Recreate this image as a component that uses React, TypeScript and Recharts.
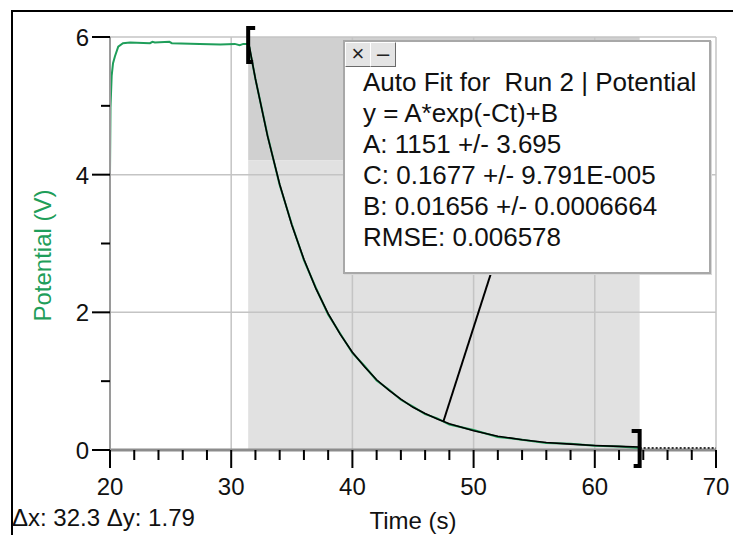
import React from 'react';
import {
  LineChart,
  Line,
  XAxis,
  YAxis,
  ReferenceArea,
  ReferenceLine,
  ReferenceDot,
} from 'recharts';

// tick values
const xTicks = [20, 22, 24, 26, 28, 30, 32, 34, 36, 38, 40, 42, 44, 46, 48, 50, 52, 54, 56, 58, 60, 62, 64, 66, 68, 70];
const xMajor = [20, 30, 40, 50, 60, 70];
const yTicks = [0, 1, 2, 3, 4, 5, 6];
const yMajor = [0, 2, 4, 6];
const xGrid = [30, 40, 50, 60, 70];
const yGrid = [2, 4, 6];

// Run 2 | Potential (measured)
const rawTime = [20.0, 20.04, 20.14, 20.25, 20.41, 20.68, 21.07, 21.65, 23.3, 23.5, 23.7, 24.9, 25.1, 27.4, 29.1, 30.3, 30.7, 31.0, 31.4, 31.5, 32, 33, 34, 35, 36, 37, 38, 39, 40, 41, 42, 43, 44, 45, 46, 47, 48, 50, 52, 54, 56, 58, 60, 62, 63.7];
const rawPotential = [4.0, 4.98, 5.44, 5.62, 5.72, 5.86, 5.91, 5.92, 5.91, 5.93, 5.92, 5.93, 5.91, 5.9, 5.89, 5.9, 5.88, 5.9, 5.9, 5.85, 5.39, 4.57, 3.85, 3.28, 2.76, 2.35, 1.97, 1.69, 1.41, 1.22, 1.01, 0.88, 0.73, 0.63, 0.52, 0.46, 0.37, 0.29, 0.19, 0.15, 0.1, 0.09, 0.06, 0.05, 0.03];

// auto fit curve over the selection
const fitTime = [31.5, 32, 33, 34, 35, 36, 37, 38, 39, 40, 41, 42, 43, 44, 45, 46, 47, 48, 50, 52, 54, 56, 58, 60, 62, 63.7];
const fitPotential = [5.86, 5.39, 4.56, 3.86, 3.27, 2.77, 2.34, 1.98, 1.68, 1.42, 1.21, 1.02, 0.87, 0.74, 0.62, 0.53, 0.45, 0.38, 0.28, 0.2, 0.15, 0.11, 0.086, 0.066, 0.052, 0.043];

// data after the selection
const tailTime = [63.7, 70];
const tailPotential = [0.03, 0.03];

const selStart = 31.4;
const selEnd = 63.7;
const deltaY = 1.79;
const fitLink = [{ x: 47.5, y: 0.41 }, { x: 51.4, y: 2.55 }];

const fitLines = [
  'Auto Fit for  Run 2 | Potential',
  'y = A*exp(-Ct)+B',
  'A: 1151 +/- 3.695',
  'C: 0.1677 +/- 9.791E-005',
  'B: 0.01656 +/- 0.0006664',
  'RMSE: 0.006578',
];

const rawData = rawTime.map((t, i) => ({ t, v: rawPotential[i] }));
const fitData = fitTime.map((t, i) => ({ t, v: fitPotential[i] }));
const tailData = tailTime.map((t, i) => ({ t, v: tailPotential[i] }));

const GREEN = '#1f9e5a';
const FONT = '"Liberation Sans", Arial, sans-serif';

const XTick = (props: any) => {
  const { x, y, payload } = props;
  const major = xMajor.includes(payload.value);
  return (
    <g>
      <line x1={x} y1={y} x2={x} y2={y + (major ? 18 : 10)} stroke="#000" strokeWidth={2} />
      {major && (
        <text x={x} y={y + 45} textAnchor="middle" fontSize={24} fill="#111" fontFamily={FONT}>
          {payload.value}
        </text>
      )}
    </g>
  );
};

const YTick = (props: any) => {
  const { x, y, payload } = props;
  const major = yMajor.includes(payload.value);
  return (
    <g>
      <line x1={x - (major ? 18 : 9)} y1={y} x2={x} y2={y} stroke="#000" strokeWidth={2} />
      {major && (
        <text x={x - 21} y={y + 9} textAnchor="end" fontSize={24} fill="#111" fontFamily={FONT}>
          {payload.value}
        </text>
      )}
    </g>
  );
};

const OpenBracket = (p: any) => (
  <path
    d={`M${p.cx + 7},${p.cy - 9} H${p.cx} V${p.cy + 25} H${p.cx + 5}`}
    fill="none"
    stroke="#000"
    strokeWidth={4}
  />
);

const CloseBracket = (p: any) => (
  <path
    d={`M${p.cx - 8},${p.cy - 19} H${p.cx} V${p.cy + 16} H${p.cx - 6}`}
    fill="none"
    stroke="#000"
    strokeWidth={4}
  />
);

const btn: React.CSSProperties = {
  position: 'absolute',
  top: 0,
  width: 24,
  height: 23,
  background: '#e4e4e4',
  borderTop: '1px solid #fff',
  borderLeft: '1px solid #fff',
  borderRight: '1px solid #6a6a6a',
  borderBottom: '1px solid #6a6a6a',
  fontSize: 22,
  lineHeight: '22px',
  textAlign: 'center',
  color: '#222',
};

export default function App() {
  return (
    <div style={{ position: 'absolute', left: 0, top: 0, width: 733, height: 535, background: '#fff', overflow: 'hidden', fontFamily: FONT }}>
      <div style={{ position: 'absolute', left: 11, top: 10, width: 740, height: 540, borderTop: '2px solid #000', borderLeft: '2px solid #000' }} />
      <LineChart
        width={733}
        height={535}
        margin={{ top: 37, right: 17, bottom: 0, left: 0 }}
        style={{ position: 'absolute', left: 0, top: 0, fontFamily: FONT }}
      >
        <XAxis
          type="number"
          dataKey="t"
          domain={[20, 70]}
          ticks={xTicks}
          interval={0}
          height={85}
          tickSize={0}
          tickMargin={0}
          tickLine={false}
          axisLine={false}
          tick={<XTick />}
          allowDataOverflow
          label={{
            content: (p: any) => (
              <text
                x={p.viewBox.x + p.viewBox.width / 2}
                y={p.viewBox.y + 79}
                textAnchor="middle"
                fontSize={24}
                fill="#111"
                fontFamily={FONT}
              >
                Time (s)
              </text>
            ),
          }}
        />
        <YAxis
          type="number"
          domain={[0, 6]}
          ticks={yTicks}
          interval={0}
          width={110}
          tickSize={0}
          tickMargin={0}
          tickLine={false}
          axisLine={{ stroke: '#9a9a9a', strokeWidth: 2 }}
          tick={<YTick />}
          allowDataOverflow
          label={{
            content: (p: any) => {
              const cx = p.viewBox.x + 42;
              const cy = p.viewBox.y + p.viewBox.height / 2 + 12;
              return (
                <text
                  x={cx}
                  y={cy}
                  transform={`rotate(-90 ${cx} ${cy})`}
                  textAnchor="middle"
                  dominantBaseline="central"
                  fontSize={24}
                  fill={GREEN}
                  fontFamily={FONT}
                >
                  Potential (V)
                </text>
              );
            },
          }}
        />
        <ReferenceArea x1={selStart} x2={selEnd} y1={6 - deltaY} y2={6} fill="#d0d0d0" fillOpacity={1} stroke="none" />
        <ReferenceArea x1={selStart} x2={selEnd} y1={0} y2={6 - deltaY} fill="#e1e1e1" fillOpacity={1} stroke="none" />
        {xGrid.map((v) => (
          <ReferenceLine key={'gx' + v} x={v} stroke="#c4c4c4" strokeWidth={1.5} />
        ))}
        {yGrid.map((v) => (
          <ReferenceLine key={'gy' + v} y={v} stroke="#c4c4c4" strokeWidth={1.5} />
        ))}
        <ReferenceLine y={0} stroke="#8c8c8c" strokeWidth={3} />
        <Line data={rawData} dataKey="v" type="linear" stroke={GREEN} strokeWidth={2} dot={false} isAnimationActive={false} />
        <Line data={tailData} dataKey="v" type="linear" stroke="#333" strokeWidth={2} strokeDasharray="2 2" dot={false} isAnimationActive={false} />
        <Line data={fitData} dataKey="v" type="linear" stroke="#000" strokeWidth={1.6} dot={false} isAnimationActive={false} />
        <ReferenceLine segment={fitLink} stroke="#000" strokeWidth={2} ifOverflow="visible" />
        <ReferenceDot x={selStart} y={6} r={0} ifOverflow="visible" shape={OpenBracket} />
        <ReferenceDot x={selEnd} y={0} r={0} ifOverflow="visible" shape={CloseBracket} />
      </LineChart>

      <div
        style={{
          position: 'absolute',
          left: 343,
          top: 40,
          width: 364,
          height: 230,
          background: '#fff',
          border: '2px solid #a8a8a8',
          boxShadow: '1px 1px 0 #d8d8d8',
        }}
      >
        <div style={{ ...btn, left: 0 }}>×</div>
        <div style={{ ...btn, left: 25 }}>–</div>
        <div style={{ position: 'absolute', left: 18, top: 25, fontSize: 26, lineHeight: '31px', color: '#111', whiteSpace: 'pre' }}>
          {fitLines.map((s) => (
            <div key={s}>{s}</div>
          ))}
        </div>
      </div>

      <div style={{ position: 'absolute', left: 12, top: 504, fontSize: 24, color: '#111', whiteSpace: 'pre' }}>
        {'Δx: 32.3 Δy: 1.79'}
      </div>
    </div>
  );
}
